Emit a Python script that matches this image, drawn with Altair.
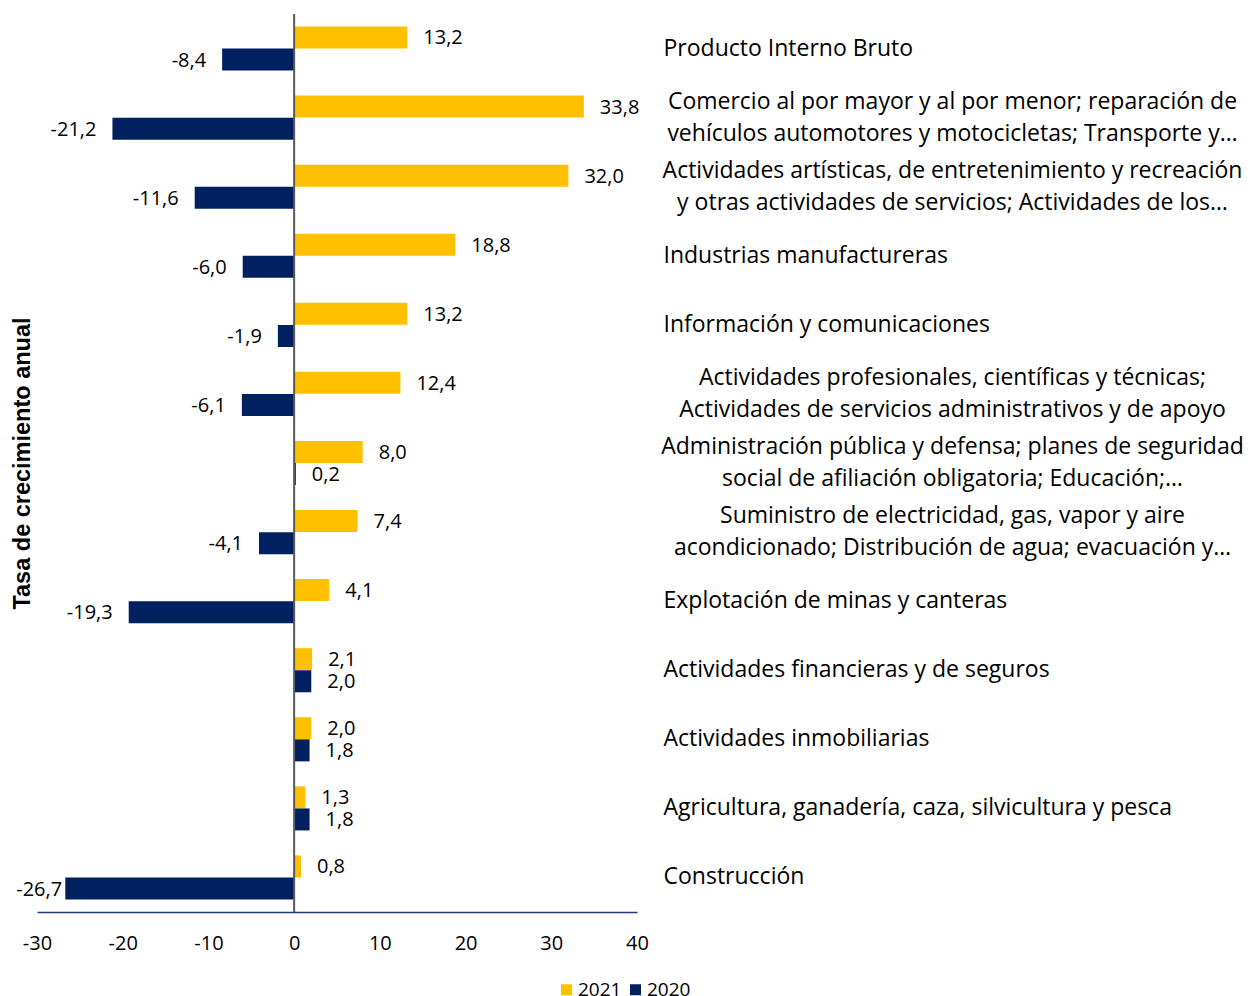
import altair as alt
import pandas as pd

categories = [
    "Producto Interno Bruto",
    "Comercio al por mayor y al por menor; reparación de\nvehículos automotores y motocicletas; Transporte y…",
    "Actividades artísticas, de entretenimiento y recreación\ny otras actividades de servicios; Actividades de los…",
    "Industrias manufactureras",
    "Información y comunicaciones",
    "Actividades profesionales, científicas y técnicas;\nActividades de servicios administrativos y de apoyo",
    "Administración pública y defensa; planes de seguridad\nsocial de afiliación obligatoria; Educación;…",
    "Suministro de electricidad, gas, vapor y aire\nacondicionado; Distribución de agua; evacuación y…",
    "Explotación de minas y canteras",
    "Actividades financieras y de seguros",
    "Actividades inmobiliarias",
    "Agricultura, ganadería, caza, silvicultura y pesca",
    "Construcción",
]
values_2021 = [13.2, 33.8, 32.0, 18.8, 13.2, 12.4, 8.0, 7.4, 4.1, 2.1, 2.0, 1.3, 0.8]
values_2020 = [-8.4, -21.2, -11.6, -6.0, -1.9, -6.1, 0.2, -4.1, -19.3, 2.0, 1.8, 1.8, -26.7]
series = ["2021", "2020"]
colors = ["#FFC000", "#002060"]

rows = []
for c, a, b in zip(categories, values_2021, values_2020):
    rows.append({"cat": c, "serie": "2021", "v": a})
    rows.append({"cat": c, "serie": "2020", "v": b})
df = pd.DataFrame(rows)

FONT = "Open Sans"
MULTI = "indexof(datum.label, '\\n') >= 0"

yscale = alt.Scale(domain=categories, paddingInner=0.36, paddingOuter=0.18)
xscale = alt.Scale(domain=[-30, 40], nice=False, zero=False)
yoff = alt.YOffset("serie:N", sort=series, scale=alt.Scale(domain=series, paddingInner=0, paddingOuter=0))

base = alt.Chart(df).transform_calculate(
    lab="replace(replace(format(datum.v, '.1f'), '.', ','), '\u2212', '-')",
    tx="max(datum.v, -25.2)",
)

bars = base.mark_bar(size=22).encode(
    x=alt.X("v:Q", scale=xscale, axis=alt.Axis(
        values=[-30, -20, -10, 0, 10, 20, 30, 40], format="d", grid=False, ticks=False,
        domainColor="#1F3D7A", domainWidth=1.5, labelFont=FONT, labelFontSize=20,
        labelColor="#000000", labelPadding=21, title=None, labelFlush=False,
        labelExpr="replace(datum.label, '\u2212', '-')")),
    y=alt.Y("cat:N", scale=yscale, sort=categories, axis=alt.Axis(
        orient="right", domain=False, ticks=False, title=None,
        labelFont=FONT, labelFontSize=23, labelColor="#000000", labelLineHeight=32,
        labelExpr="split(datum.label, '\\n')",
        labelAlign=alt.condition(MULTI, alt.value("center"), alt.value("left")),
        labelPadding=alt.condition(MULTI, alt.value(315), alt.value(26)),
        labelOffset=alt.condition(MULTI, alt.value(-16), alt.value(0)),
        labelLimit=0)),
    yOffset=yoff,
    color=alt.Color("serie:N", sort=series, scale=alt.Scale(domain=series, range=colors),
                    legend=alt.Legend(title=None, orient="none", direction="horizontal",
                                      legendX=520, legendY=966, symbolType="square",
                                      symbolSize=121, symbolStrokeWidth=0,
                                      labelFont=FONT, labelFontSize=19, labelColor="#000000",
                                      columnPadding=4, labelOffset=2)),
)

pos_text = base.transform_filter("datum.v >= 0").mark_text(
    align="left", baseline="middle", dx=16, dy=1, font=FONT, fontSize=20, color="#000000"
).encode(
    x=alt.X("v:Q", scale=xscale),
    y=alt.Y("cat:N", scale=yscale, sort=categories, axis=alt.Axis(
        orient="left", labels=False, ticks=False, domain=False,
        title="Tasa de crecimiento anual", titleFont="Liberation Sans", titleFontSize=23.5,
        titleFontWeight="bold", titleColor="#000000", titlePadding=3)),
    yOffset=yoff,
    text="lab:N",
)

neg_text = base.transform_filter("datum.v < 0").mark_text(
    align="right", baseline="middle", dx=-16, dy=1, font=FONT, fontSize=20, color="#000000"
).encode(
    x=alt.X("tx:Q", scale=xscale),
    y=alt.Y("cat:N", scale=yscale, sort=categories, axis=None),
    yOffset=yoff,
    text="lab:N",
)

zero = alt.Chart(pd.DataFrame({"z": [0]})).mark_rule(color="#595959", strokeWidth=2).encode(
    x=alt.X("z:Q", scale=xscale)
)

chart = alt.layer(bars, pos_text, neg_text, zero).resolve_axis(y="independent").properties(
    width=600, height=898,
    autosize=alt.AutoSizeParams(type="none"),
    padding={"left": 29, "top": 6, "right": 613, "bottom": 88},
).configure_view(stroke=None)

chart.save("out.html", embed_options={"renderer": "svg", "actions": False})
